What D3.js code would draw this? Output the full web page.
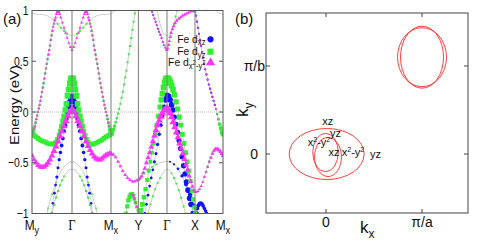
<!DOCTYPE html>
<html>
<head>
<meta charset="utf-8">
<script src="https://cdn.jsdelivr.net/npm/d3@7"></script>
<style>
  body { margin: 0; background: #fff; }
  text { font-family: "Liberation Sans", Arial, sans-serif; fill: #111; }
</style>
</head>
<body>
<script>
// (a) orbital-resolved bands along My-G-Mx-Y-G-X-Mx, (b) Fermi surface

var kPoints = [0, 1, 1.975, 2.66, 3.375, 4.075, 4.775];
var kNames = ["M", "Γ", "M", "Y", "Γ", "X", "M"];
var kSubs = ["y", "", "x", "", "", "", "x"];
var energyTicks = [-1, -0.5, 0, 0.5, 1];

// rows: [k, E (eV), weight xz, weight yz, weight x2-y2]
var bandX2 = [
  [0.00,-0.43,0,0,.65],[0.05,-0.47,0,0,.65],[0.10,-0.50,0,0,.7],[0.15,-0.525,0,0,.7],[0.20,-0.54,0,0,.7],
  [0.25,-0.545,0,0,.75],[0.30,-0.54,0,0,.75],[0.35,-0.525,0,0,.75],[0.40,-0.50,0,0,.8],[0.45,-0.47,0,0,.8],
  [0.50,-0.43,0,0,.8],[0.55,-0.385,0,0,.85],[0.60,-0.34,0,0,.85],[0.65,-0.29,0,0,.85],[0.70,-0.24,0,0,.9],
  [0.75,-0.19,0,0,.9],[0.80,-0.14,0,0,.9],[0.85,-0.09,0,0,.95],[0.90,-0.04,0,0,.95],[0.95,0.00,0,0,1],
  [1.00,0.03,0,0,1],[1.05,0.00,0,0,1],[1.10,-0.04,0,0,.95],[1.15,-0.09,0,0,.95],[1.20,-0.14,0,0,.9],
  [1.25,-0.19,0,0,.9],[1.30,-0.24,0,0,.85],[1.35,-0.29,0,0,.85],[1.40,-0.335,0,0,.8],[1.45,-0.375,0,0,.8],
  [1.50,-0.41,0,0,.8],[1.55,-0.44,0,0,.75],[1.60,-0.46,0,0,.75],[1.65,-0.47,0,0,.75],[1.70,-0.47,0,0,.75],
  [1.75,-0.46,0,0,.75],[1.80,-0.44,0,0,.75],[1.85,-0.425,0,0,.75],[1.90,-0.415,0,0,.7],[1.94,-0.41,0,0,.7],
  [1.975,-0.41,0,0,.6],[2.03,-0.42,0,0,.4],[2.09,-0.445,0,0,.35],[2.15,-0.49,0,0,.35],[2.21,-0.535,0,0,.35],
  [2.27,-0.58,0,0,.35],[2.33,-0.62,0,0,.35],[2.39,-0.65,0,0,.35],[2.45,-0.67,0,0,.35],[2.51,-0.685,0,0,.35],
  [2.57,-0.685,0,0,.35],[2.62,-0.675,0,0,.35],[2.66,-0.67,0,0,.35],[2.70,-0.655,0,.15,.35],[2.74,-0.635,0,.15,.4],
  [2.78,-0.60,0,0,.45],[2.82,-0.555,0,0,.5],[2.86,-0.50,0,0,.55],[2.90,-0.45,0,0,.6],[2.94,-0.40,0,0,.65],
  [2.98,-0.345,0,0,.7],[3.02,-0.29,0,0,.75],[3.06,-0.235,0,0,.8],[3.10,-0.18,0,0,.85],[3.14,-0.13,0,0,.9],
  [3.18,-0.085,0,0,.9],[3.22,-0.045,0,0,.95],[3.26,-0.01,0,0,.95],[3.30,0.015,0,0,1],[3.34,0.03,0,0,1],
  [3.375,0.035,0,0,1],[3.41,0.02,0,0,1],[3.45,-0.01,0,0,1],[3.49,-0.05,0,0,.95],[3.53,-0.10,0,0,.95],
  [3.57,-0.15,0,0,.9],[3.61,-0.20,0,0,.9],[3.65,-0.25,0,0,.85],[3.69,-0.31,0,0,.85],[3.73,-0.36,0,0,.8],
  [3.77,-0.41,0,0,.8],[3.81,-0.465,0,0,.75],[3.85,-0.52,0,0,.7],[3.89,-0.57,0,0,.65],[3.93,-0.63,0,0,.6],
  [3.97,-0.685,0,0,.55],[4.01,-0.735,0,0,.45],[4.045,-0.77,0,0,.35],[4.075,-0.785,0,0,.3],[4.11,-0.79,0,0,.25],
  [4.15,-0.78,0,0,.25],[4.19,-0.76,0,0,.25],[4.23,-0.73,0,0,.25],[4.27,-0.69,0,0,.25],[4.31,-0.64,0,.1,.25],
  [4.35,-0.59,0,.15,.25],[4.39,-0.54,0,.2,.25],[4.43,-0.49,0,.2,.3],[4.47,-0.45,0,.2,.3],[4.51,-0.41,0,.2,.35],
  [4.55,-0.38,0,.2,.4],[4.59,-0.365,0,.15,.45],[4.63,-0.365,0,.1,.5],[4.67,-0.375,0,0,.5],[4.71,-0.39,0,0,.5],
  [4.745,-0.41,0,0,.5],[4.775,-0.43,0,0,.5]
];

var bandYzLeft = [
  [0.00,-0.215,0,.7,0],[0.05,-0.23,0,.7,0],[0.10,-0.245,0,.7,0],[0.15,-0.26,0,.65,0],[0.20,-0.275,0,.65,0],
  [0.25,-0.285,0,.65,0],[0.30,-0.29,0,.65,0],[0.35,-0.30,0,.65,0],[0.40,-0.31,0,.65,0],[0.45,-0.315,0,.65,0],
  [0.50,-0.315,0,.65,0],[0.55,-0.315,0,.7,0],[0.60,-0.30,0,.7,0],[0.64,-0.27,0,.7,0],[0.68,-0.23,0,.7,0],
  [0.71,-0.19,0,.7,0],[0.74,-0.14,0,.75,0],[0.77,-0.09,0,.75,0],[0.80,-0.04,0,.8,0],[0.83,0.02,0,.8,0],
  [0.86,0.08,0,.85,0],[0.89,0.16,0,.9,0],[0.92,0.22,0,.9,0],[0.95,0.28,0,.95,0],[0.98,0.32,0,1,0],
  [1.00,0.33,0,1,0],[1.02,0.32,0,1,0],[1.05,0.28,0,.95,0],[1.08,0.22,0,.9,0],[1.11,0.16,0,.9,0],
  [1.14,0.08,0,.85,0],[1.17,0.02,0,.8,0],[1.20,-0.04,0,.8,0],[1.23,-0.09,0,.75,0],[1.26,-0.14,0,.75,0],
  [1.29,-0.19,0,.7,0],[1.32,-0.23,0,.7,0],[1.36,-0.27,0,.7,0],[1.40,-0.30,0,.7,0],[1.45,-0.315,0,.65,0],
  [1.50,-0.32,0,.65,0],[1.55,-0.315,0,.65,0],[1.60,-0.305,0,.65,0],[1.65,-0.295,0,.65,0],[1.70,-0.285,0,.65,0],
  [1.75,-0.275,0,.65,0],[1.80,-0.26,0,.65,0],[1.85,-0.245,0,.7,0],[1.90,-0.235,0,.7,0],[1.94,-0.225,0,.7,0],
  [1.975,-0.215,0,.7,0]
];

var bandUpper = [
  [0.00,-0.215,0,.6,.1],[0.025,-0.19,0,.5,.1],[0.05,-0.165,0,.4,.15],[0.07,-0.14,0,.3,.2],[0.09,-0.105,0,.25,.2],
  [0.11,-0.07,0,.2,.2],[0.13,-0.035,0,.2,.2],[0.15,0.0,0,.2,.2],[0.17,0.035,0,.2,.2],[0.19,0.07,0,.2,.2],
  [0.21,0.11,0,.2,.2],[0.23,0.15,0,.2,.2],[0.25,0.195,0,.2,.2],[0.27,0.24,0,.2,.2],[0.29,0.285,0,.2,.2],
  [0.31,0.33,0,.2,.2],[0.33,0.38,0,.2,.2],[0.35,0.43,0,.2,.2],[0.37,0.475,0,.2,.2],[0.39,0.52,0,.2,.2],
  [0.41,0.565,0,.2,.2],[0.43,0.61,0,.2,.2],[0.45,0.655,0,.2,.2],[0.47,0.71,0,.2,.2],[0.49,0.755,0,.2,.2],
  [0.51,0.80,0,.15,.25],[0.53,0.84,0,.1,.25],[0.55,0.87,0,.1,.25],[0.57,0.905,0,0,.3],[0.59,0.93,0,0,.3],
  [0.61,0.965,0,0,.3],[0.63,0.985,0,0,.3],[0.65,0.995,0,0,.3],[0.67,0.985,0,0,.3],[0.69,0.965,0,0,.3],
  [0.72,0.93,0,0,.25],[0.76,0.88,0,0,.25],[0.80,0.83,0,0,.25],[0.84,0.78,0,0,.25],[0.88,0.73,0,0,.25],
  [0.92,0.68,0,0,.25],[0.96,0.64,0,0,.25],[1.00,0.61,0,0,.3],[1.04,0.64,0,0,.25],[1.08,0.68,0,0,.25],
  [1.12,0.73,0,0,.25],[1.16,0.78,0,0,.25],[1.20,0.83,0,0,.25],[1.24,0.88,0,0,.25],[1.28,0.93,0,0,.25],
  [1.31,0.965,0,0,.3],[1.33,0.985,0,0,.3],[1.35,0.995,0,0,.3],[1.37,0.985,0,0,.3],[1.39,0.965,0,0,.3],
  [1.41,0.93,0,0,.3],[1.43,0.905,0,0,.3],[1.45,0.87,0,.1,.25],[1.47,0.84,0,.1,.25],[1.49,0.80,0,.15,.25],
  [1.51,0.755,0,.2,.2],[1.53,0.71,0,.2,.2],[1.55,0.655,0,.2,.2],[1.57,0.61,0,.2,.2],[1.59,0.565,0,.2,.2],
  [1.61,0.52,0,.2,.2],[1.63,0.475,0,.2,.2],[1.65,0.43,0,.2,.2],[1.67,0.38,0,.2,.2],[1.69,0.33,0,.2,.2],
  [1.71,0.285,0,.2,.2],[1.73,0.24,0,.2,.2],[1.75,0.195,0,.2,.2],[1.77,0.15,0,.2,.2],[1.79,0.11,0,.2,.2],
  [1.81,0.07,0,.2,.2],[1.83,0.035,0,.2,.2],[1.85,0.0,0,.2,.2],[1.87,-0.035,0,.2,.2],[1.89,-0.07,0,.25,.2],
  [1.91,-0.105,0,.3,.2],[1.93,-0.14,0,.4,.15],[1.95,-0.175,0,.5,.1],[1.975,-0.215,0,.6,.1]
];

var bandTopLeft = [
  [0.00,0.975,0,0,0],[0.08,0.965,0,0,0],[0.16,0.96,0,0,0],[0.24,0.96,0,0,0],[0.32,0.955,0,0,0],
  [0.40,0.945,0,0,0],[0.48,0.925,0,0,0],[0.56,0.90,0,.1,0],[0.64,0.87,0,.15,0],[0.72,0.83,0,.15,0],
  [0.80,0.80,0,.15,0],[0.88,0.77,0,.1,0],[0.94,0.755,0,0,0],[1.00,0.75,0,0,0],[1.06,0.755,0,0,0],
  [1.12,0.77,0,.1,0],[1.20,0.80,0,.15,0],[1.28,0.83,0,.15,0],[1.36,0.87,0,.15,0],[1.44,0.90,0,.1,0],
  [1.52,0.925,0,0,0],[1.60,0.945,0,0,0],[1.68,0.955,0,0,0],[1.76,0.96,0,0,0],[1.84,0.96,0,0,0],
  [1.92,0.965,0,0,0],[1.975,0.97,0,0,0],[2.03,0.985,0,0,0],[2.08,1.0,0,0,0],[2.12,1.02,0,0,0]
];

var bandXzLeft = [
  [0.49,-1.0,.25,0,0],[0.52,-0.9,.25,0,0],[0.56,-0.8,.3,0,0],[0.59,-0.72,.3,0,0],[0.62,-0.64,.35,0,0],
  [0.65,-0.55,.35,0,0],[0.68,-0.47,.4,0,0],[0.71,-0.40,.45,0,0],[0.74,-0.33,.5,0,0],[0.77,-0.26,.5,0,0],
  [0.80,-0.19,.55,0,0],[0.83,-0.13,.6,0,0],[0.86,-0.07,.65,0,0],[0.89,-0.01,.7,0,0],[0.92,0.05,.8,0,0],
  [0.95,0.10,.9,0,0],[0.98,0.14,1,0,0],[1.00,0.15,1,0,0],[1.02,0.14,1,0,0],[1.05,0.10,.9,0,0],
  [1.08,0.05,.8,0,0],[1.11,-0.01,.7,0,0],[1.14,-0.07,.65,0,0],[1.17,-0.13,.6,0,0],[1.20,-0.19,.55,0,0],
  [1.23,-0.26,.5,0,0],[1.26,-0.33,.5,0,0],[1.29,-0.40,.45,0,0],[1.32,-0.47,.4,0,0],[1.35,-0.55,.35,0,0],
  [1.38,-0.64,.35,0,0],[1.41,-0.72,.3,0,0],[1.44,-0.8,.3,0,0],[1.48,-0.9,.25,0,0],[1.51,-1.0,.25,0,0]
];

var bandLowOuterLeft = [
  [0.37,-1.0,0,0,0],[0.40,-0.95,0,.08,0],[0.45,-0.877,0,0,0],[0.50,-0.81,0,.08,0],[0.55,-0.749,0,0,0],
  [0.60,-0.695,0,.08,0],[0.65,-0.647,0,0,0],[0.70,-0.605,0,0,0],[0.75,-0.57,0,0,0],[0.80,-0.541,0,0,0],
  [0.85,-0.519,0,0,0],[0.90,-0.503,0,0,0],[0.95,-0.493,0,0,0],[1.00,-0.49,0,0,0],[1.05,-0.493,0,0,0],
  [1.10,-0.503,0,0,0],[1.15,-0.519,0,0,0],[1.20,-0.541,0,0,0],[1.25,-0.57,0,0,0],[1.30,-0.605,0,0,0],
  [1.35,-0.647,0,0,0],[1.40,-0.695,0,.08,0],[1.45,-0.749,0,0,0],[1.50,-0.81,0,.08,0],[1.55,-0.877,0,0,0],
  [1.60,-0.95,0,.08,0],[1.63,-1.0,0,0,0]
];

var bandLowInnerLeft = [
  [0.50,-1.0,0,.15,0],[0.55,-0.917,0,.15,0],[0.60,-0.843,0,.15,0],[0.65,-0.778,0,.15,0],[0.70,-0.722,0,.12,0],
  [0.75,-0.674,0,.12,0],[0.80,-0.635,0,.1,0],[0.85,-0.604,0,0,0],[0.90,-0.582,0,0,0],[0.95,-0.569,0,0,0],
  [1.00,-0.565,0,0,0],[1.05,-0.569,0,0,0],[1.10,-0.582,0,0,0],[1.15,-0.604,0,0,0],[1.20,-0.635,0,.1,0],
  [1.25,-0.674,0,.12,0],[1.30,-0.722,0,.12,0],[1.35,-0.778,0,.15,0],[1.40,-0.843,0,.15,0],[1.45,-0.917,0,.15,0],
  [1.50,-1.0,0,.15,0]
];

var bandMxY = [
  [1.975,-0.215,0,.6,0],[2.00,-0.20,0,.55,0],[2.03,-0.175,0,.45,0],[2.06,-0.14,0,.35,0],[2.09,-0.10,0,.25,0],
  [2.12,-0.06,0,.2,0],[2.15,-0.015,0,.18,0],[2.18,0.03,0,.15,0],[2.21,0.08,0,.15,0],[2.24,0.14,0,.15,0],
  [2.27,0.20,0,.15,0],[2.30,0.27,0,.15,0],[2.33,0.34,0,.15,0],[2.36,0.41,0,.15,0],[2.39,0.49,0,.15,0],
  [2.42,0.57,0,.15,0],[2.45,0.65,0,.15,0],[2.48,0.73,0,.15,0],[2.51,0.81,0,.15,0],[2.54,0.89,0,.15,0],
  [2.57,0.97,0,.15,0],[2.59,1.02,0,.15,0]
];

var bandTopRight = [
  [2.97,1.02,.15,0,.15],[3.00,0.99,.15,0,.15],[3.03,0.955,.15,0,.15],[3.06,0.92,.15,0,.15],[3.09,0.89,.15,0,.15],
  [3.12,0.855,.15,0,.15],[3.15,0.82,.15,0,.15],[3.18,0.79,.15,0,.15],[3.21,0.76,.15,0,.15],[3.24,0.73,.12,0,.2],
  [3.27,0.69,.1,0,.2],[3.30,0.66,0,0,.25],[3.33,0.635,0,0,.25],[3.355,0.615,0,0,.3],[3.375,0.61,0,0,.3],
  [3.395,0.625,0,0,.3],[3.415,0.66,0,0,.3],[3.435,0.70,0,0,.3],[3.455,0.74,0,0,.35],[3.48,0.78,0,0,.35],
  [3.51,0.815,0,0,.35],[3.54,0.845,0,0,.35],[3.58,0.875,0,0,.35],[3.62,0.90,0,0,.35],[3.67,0.92,0,0,.35],
  [3.72,0.935,0,0,.35],[3.77,0.95,0,0,.35],[3.82,0.96,0,0,.35],[3.87,0.97,0,0,.35],[3.92,0.98,0,0,.35],
  [3.97,0.99,0,0,.35],[4.02,0.995,0,0,.35],[4.05,0.995,0,0,.35],[4.075,0.99,.1,0,.3],[4.10,0.95,.2,0,.15],
  [4.125,0.89,.2,0,.15],[4.15,0.83,.2,0,.15],[4.175,0.77,.2,0,.15],[4.20,0.71,.2,0,.15],[4.225,0.65,.2,0,.15],
  [4.25,0.59,.2,0,.15],[4.275,0.53,.2,0,.15],[4.30,0.475,.2,0,.15],[4.33,0.42,.2,0,.15],[4.36,0.37,.2,0,.15],
  [4.39,0.32,.2,0,.15],[4.42,0.27,.2,0,.15],[4.45,0.23,.2,0,.15],[4.48,0.19,.2,0,.15],[4.51,0.15,.2,0,.15],
  [4.54,0.11,.2,0,.15],[4.57,0.07,.2,0,.15],[4.60,0.03,.15,.1,.15],[4.63,-0.02,.1,.2,.1],[4.66,-0.07,0,.3,.1],
  [4.69,-0.12,0,.4,0],[4.72,-0.16,0,.5,0],[4.75,-0.20,0,.6,0],[4.775,-0.22,0,.6,0]
];

var bandTopGammaRight = [
  [3.12,1.0,0,0,0],[3.16,0.94,0,0,0],[3.20,0.87,0,0,0],[3.24,0.82,0,0,0],[3.28,0.78,0,0,0],
  [3.33,0.76,0,0,0],[3.375,0.755,0,0,0],[3.42,0.76,0,0,0],[3.47,0.78,0,.15,0],[3.51,0.82,0,.15,0],
  [3.55,0.87,0,.15,0],[3.59,0.94,0,.15,0],[3.63,1.0,0,.15,0]
];

var bandTopMx = [[4.58,1.02,0,0,0],[4.62,0.995,0,0,0],[4.66,0.98,0,0,0],[4.70,0.97,0,0,0],[4.74,0.965,0,0,0],[4.775,0.96,0,0,0]];

var bandXzRight = [
  [2.82,-1.0,.3,0,0],[2.86,-0.91,.3,0,0],[2.90,-0.82,.3,0,0],[2.94,-0.73,.3,0,0],[2.98,-0.65,.3,0,0],
  [3.02,-0.57,.3,0,0],[3.06,-0.49,.35,0,0],[3.10,-0.41,.35,0,0],[3.14,-0.32,.4,0,0],[3.18,-0.22,.45,0,0],
  [3.22,-0.13,.5,0,0],[3.26,-0.04,.6,0,0],[3.30,0.05,.7,0,0],[3.34,0.12,.85,0,0],[3.375,0.16,1,0,0],
  [3.41,0.15,1,0,0],[3.45,0.12,.9,0,0],[3.49,0.07,.85,0,0],[3.525,0.02,.8,0,0],[3.56,-0.05,.8,0,0],
  [3.60,-0.12,.75,0,0],[3.64,-0.20,.75,0,0],[3.675,-0.28,.75,0,0],[3.71,-0.36,.75,0,0],[3.75,-0.44,.75,0,0],
  [3.79,-0.53,.8,0,0],[3.825,-0.61,.8,0,0],[3.86,-0.69,.8,0,0],[3.90,-0.77,.85,0,0],[3.94,-0.85,.85,0,0],
  [3.975,-0.91,.85,0,0],[4.025,-1.0,.85,0,0]
];

var bandYzRight = [
  [2.69,-1.0,0,.7,0],[2.72,-0.97,0,.7,0],[2.76,-0.91,0,.7,0],[2.80,-0.84,0,.65,0],[2.84,-0.76,0,.6,0],
  [2.88,-0.67,0,.55,0],[2.92,-0.58,0,.5,0],[2.96,-0.49,0,.5,0],[3.00,-0.40,0,.5,0],[3.04,-0.31,0,.55,0],
  [3.08,-0.22,0,.6,0],[3.12,-0.13,0,.65,0],[3.16,-0.04,0,.7,0],[3.20,0.05,0,.75,0],[3.23,0.12,0,.8,0],
  [3.26,0.18,0,.85,0],[3.29,0.24,0,.9,0],[3.32,0.29,0,.95,0],[3.35,0.32,0,1,0],[3.375,0.33,0,1,0],
  [3.40,0.325,0,1,0],[3.43,0.31,0,1,0],[3.46,0.29,0,.95,0],[3.49,0.26,0,.9,0],[3.525,0.22,0,.85,0],
  [3.56,0.17,0,.8,0],[3.60,0.10,0,.8,0],[3.64,0.03,0,.75,0],[3.68,-0.05,0,.75,0],[3.72,-0.13,0,.7,0],
  [3.76,-0.22,0,.7,0],[3.80,-0.31,0,.7,0],[3.84,-0.40,0,.7,0],[3.88,-0.49,0,.65,0],[3.92,-0.58,0,.65,0],
  [3.96,-0.68,0,.6,0],[4.00,-0.78,0,.6,0],[4.03,-0.86,0,.6,0],[4.06,-0.94,0,.6,0],[4.08,-1.0,0,.6,0]
];

var bandLowOuterRight = [
  [2.66,-0.665,0,.12,0],[2.72,-0.635,0,.12,0],[2.80,-0.60,0,.12,0],[2.90,-0.565,0,.12,0],[3.00,-0.54,0,.1,0],
  [3.10,-0.515,0,.1,0],[3.20,-0.50,0,0,0],[3.30,-0.49,0,0,0],[3.375,-0.487,0,0,0],[3.45,-0.49,.15,0,0],
  [3.55,-0.515,.2,0,0],[3.65,-0.56,.3,0,0],[3.75,-0.63,.4,0,0],[3.85,-0.715,.5,0,0],[3.95,-0.815,.6,0,0],
  [4.05,-0.925,.6,0,0],[4.12,-1.0,.6,0,0]
];

var bandLowInnerRight = [
  [2.90,-1.0,0,.15,0],[2.96,-0.91,0,.15,0],[3.02,-0.83,0,.15,0],[3.08,-0.76,0,.12,0],[3.14,-0.70,0,.12,0],
  [3.20,-0.65,0,.1,0],[3.26,-0.61,0,0,0],[3.32,-0.575,0,0,0],[3.375,-0.565,0,0,0],[3.43,-0.575,0,0,0],
  [3.49,-0.605,0,.1,0],[3.55,-0.65,0,.12,0],[3.61,-0.705,0,.12,0],[3.67,-0.77,0,.15,0],[3.73,-0.845,0,.15,0],
  [3.79,-0.93,0,.15,0],[3.84,-1.0,0,.15,0]
];

var bandHumpY = [
  [2.35,-1.0,0,.5,0],[2.38,-0.93,0,.55,0],[2.41,-0.87,0,.6,0],[2.44,-0.835,0,.6,0],[2.47,-0.815,0,.6,0],
  [2.50,-0.81,0,.6,.2],[2.53,-0.825,0,.55,.3],[2.56,-0.855,0,.5,.3],[2.59,-0.895,0,.45,.3],[2.62,-0.935,0,.4,.25],
  [2.65,-0.97,0,.3,.2],[2.68,-1.0,0,.3,.2]
];

var bandHumpX = [
  [4.10,-1.0,.5,0,0],[4.13,-0.95,.55,0,0],[4.16,-0.92,.55,0,0],[4.19,-0.905,.55,0,0],[4.22,-0.90,.55,0,0],
  [4.25,-0.905,.5,0,0],[4.28,-0.925,.5,0,0],[4.31,-0.95,.45,0,0],[4.34,-0.975,.45,0,0],[4.37,-1.0,.4,0,0]
];

var bands = [bandTopLeft, bandLowOuterLeft, bandLowInnerLeft, bandTopGammaRight, bandTopMx,
  bandLowOuterRight, bandLowInnerRight, bandUpper, bandMxY, bandTopRight, bandHumpY, bandHumpX,
  bandYzLeft, bandXzLeft, bandXzRight, bandYzRight, bandX2];

var orbitalSubs = ["xz", "yz", "x2-y2"];

// Fermi contours (b): [kx, ky, half-width, half-height], kx in pi/a, ky in pi/b
var fsGammaOuter = [0.007, 0.0, 0.39, 0.29];
var fsGammaInnerA = [-0.005, 0.017, 0.133, 0.218];
var fsGammaInnerB = [0.021, -0.034, 0.14, 0.222];
var fsPocketA = [1.0, 1.10, 0.255, 0.335];
var fsPocketB = [1.0, 1.10, 0.224, 0.352];
var fsContours = [fsGammaOuter, fsGammaInnerA, fsGammaInnerB, fsPocketA, fsPocketB];

var fsLabelText = ["xz", "yz", "x2-y2", "xz", "x2-y2", "yz"];
var fsLabelKx = [-0.04, 0.042, -0.19, 0.026, 0.164, 0.458];
var fsLabelKy = [0.33, 0.193, 0.09, -0.023, -0.023, -0.045];

var W = 477, H = 245;
var svg = d3.select("body").append("svg").attr("width", W).attr("height", H);

// ---------- panel (a) ----------
var x = d3.scaleLinear().domain([0, 4.775]).range([32, 223]);
var y = d3.scaleLinear().domain([-1, 1]).range([213.5, 10.5]);
var size = d3.scaleLinear().domain([0, 1]).range([1.2, 6.4]);

var colors = ["#1212ff", "#33ee33", "#ff33ff"];
var shapes = [d3.symbolCircle, d3.symbolSquare, d3.symbolTriangle];
var areaK = [Math.PI / 4, 1, 0.65];

function marker(o, d) {
  return d3.symbol().type(shapes[o]).size(d * d * areaK[o])();
}

// squeezed text, the original figure is narrower than tall
function label(g, px, py, s, anchor, sx, fs) {
  return g.append("text")
    .attr("transform", "translate(" + px + "," + py + ") scale(" + sx + ",1)")
    .attr("text-anchor", anchor)
    .attr("font-size", fs)
    .text(s);
}

svg.append("clipPath").attr("id", "clipA")
  .append("rect").attr("x", x(0)).attr("y", y(1)).attr("width", x(4.775) - x(0)).attr("height", y(-1) - y(1));

var plot = svg.append("g").attr("clip-path", "url(#clipA)");

// zero line
plot.append("line")
  .attr("x1", x(0)).attr("x2", x(4.775)).attr("y1", y(0)).attr("y2", y(0))
  .attr("stroke", "#bbb").attr("stroke-width", 1).attr("stroke-dasharray", "1,1");

// high-symmetry lines
svg.append("g").selectAll("line")
  .data(kPoints.slice(1, -1))
  .enter().append("line")
  .attr("x1", d => x(d)).attr("x2", d => x(d))
  .attr("y1", y(1)).attr("y2", y(-1))
  .attr("stroke", "#7a7a7a").attr("stroke-width", 1);

var line = d3.line().x(d => x(d[0])).y(d => y(d[1])).curve(d3.curveMonotoneX);

plot.append("g").selectAll("path")
  .data(bands)
  .enter().append("path")
  .attr("d", line)
  .attr("fill", "none")
  .attr("stroke", "#c6c6c6")
  .attr("stroke-width", 0.9);

[0, 1, 2].forEach(function(o) {
  var pts = [];
  bands.forEach(function(b) {
    b.forEach(function(r) { if (r[2 + o] > 0.04) pts.push(r); });
  });
  plot.append("g").selectAll("path")
    .data(pts)
    .enter().append("path")
    .attr("transform", d => "translate(" + x(d[0]) + "," + y(d[1]) + ")")
    .attr("d", d => marker(o, size(d[2 + o])))
    .attr("fill", colors[o]);
});

// frame
svg.append("rect")
  .attr("x", x(0)).attr("y", y(1))
  .attr("width", x(4.775) - x(0)).attr("height", y(-1) - y(1))
  .attr("fill", "none").attr("stroke", "#555").attr("stroke-width", 1);

// y ticks
var yt = svg.append("g");
energyTicks.forEach(function(e) {
  yt.append("line").attr("x1", x(0)).attr("x2", x(0) + 4).attr("y1", y(e)).attr("y2", y(e)).attr("stroke", "#555");
  yt.append("line").attr("x1", x(4.775)).attr("x2", x(4.775) - 4).attr("y1", y(e)).attr("y2", y(e)).attr("stroke", "#555");
  label(yt, x(0) - 3.5, y(e) + 4.5, d3.format("")(e), "end", 0.8, 13);
});

label(svg, 3, 24, "(a)", "start", 1, 15);

svg.append("text")
  .attr("transform", "translate(19,105) scale(0.8,1) rotate(-90)")
  .attr("text-anchor", "middle")
  .attr("font-size", 15)
  .text("Energy (eV)");

// k labels
kPoints.forEach(function(k, i) {
  var t = svg.append("text")
    .attr("transform", "translate(" + x(k) + ",230) scale(0.85,1)")
    .attr("text-anchor", "middle")
    .attr("font-size", 14);
  if (kNames[i] === "Γ") t.style("font-family", "'Liberation Serif', serif").attr("font-size", 15);
  t.append("tspan").text(kNames[i]);
  if (kSubs[i]) t.append("tspan").attr("dy", 4).attr("font-size", 11).text(kSubs[i]);
});

// legend
var legY = [39.3, 51.7, 62.7];
orbitalSubs.forEach(function(s, o) {
  var t = svg.append("text")
    .attr("transform", "translate(205.5," + (legY[o] + 3.5) + ") scale(0.9,1)")
    .attr("text-anchor", "end")
    .attr("font-size", 11.5);
  t.append("tspan").text("Fe d");
  if (s === "x2-y2") {
    t.append("tspan").attr("dy", 2.5).attr("font-size", 8.5).text("x");
    t.append("tspan").attr("dy", -4).attr("font-size", 6.5).text("2");
    t.append("tspan").attr("dy", 4).attr("font-size", 8.5).text("-y");
    t.append("tspan").attr("dy", -4).attr("font-size", 6.5).text("2");
  } else {
    t.append("tspan").attr("dy", 2.5).attr("font-size", 8.5).text(s);
  }
  svg.append("path")
    .attr("transform", "translate(210.5," + legY[o] + ")")
    .attr("d", marker(o, o === 2 ? 7.5 : 6.2))
    .attr("fill", colors[o]);
});

// ---------- panel (b) ----------
var xb = d3.scaleLinear().domain([-0.625, 1.479]).range([266, 468]);
var yb = d3.scaleLinear().domain([-0.67, 1.602]).range([213, 13]);

var pb = svg.append("g");

pb.selectAll("ellipse")
  .data(fsContours)
  .enter().append("ellipse")
  .attr("cx", d => xb(d[0]))
  .attr("cy", d => yb(d[1]))
  .attr("rx", d => xb(d[0] + d[2]) - xb(d[0]))
  .attr("ry", d => yb(d[1]) - yb(d[1] + d[3]))
  .attr("fill", "none")
  .attr("stroke", "#ff2a2a")
  .attr("stroke-width", 0.9);

pb.append("rect")
  .attr("x", 266).attr("y", 13).attr("width", 202).attr("height", 200)
  .attr("fill", "none").attr("stroke", "#444").attr("stroke-width", 1);

[0, 1].forEach(function(v) {
  pb.append("line").attr("x1", xb(v)).attr("x2", xb(v)).attr("y1", 213).attr("y2", 209).attr("stroke", "#444");
  pb.append("line").attr("x1", xb(v)).attr("x2", xb(v)).attr("y1", 13).attr("y2", 17).attr("stroke", "#444");
  pb.append("line").attr("x1", 266).attr("x2", 270).attr("y1", yb(v)).attr("y2", yb(v)).attr("stroke", "#444");
  pb.append("line").attr("x1", 468).attr("x2", 464).attr("y1", yb(v)).attr("y2", yb(v)).attr("stroke", "#444");
});

label(pb, xb(0), 227, "0", "middle", 1, 14);
label(pb, xb(1), 227, "π/a", "middle", 1, 14);
label(pb, 258, yb(0) + 5, "0", "end", 1, 14);
label(pb, 265, yb(1) + 5, "π/b", "end", 1, 14);
label(pb, 235, 24, "(b)", "start", 1, 15);

var kx = pb.append("text").attr("x", 360).attr("y", 233).attr("font-size", 17);
kx.append("tspan").text("k");
kx.append("tspan").attr("dy", 5).attr("font-size", 12).text("x");

var ky = pb.append("text").attr("transform", "translate(248,117) rotate(-90)").attr("font-size", 17);
ky.append("tspan").text("k");
ky.append("tspan").attr("dy", 5).attr("font-size", 12).text("y");

fsLabelText.forEach(function(s, i) {
  var t = pb.append("text")
    .attr("x", xb(fsLabelKx[i])).attr("y", yb(fsLabelKy[i]))
    .attr("font-size", 11);
  if (s === "x2-y2") {
    t.append("tspan").text("x");
    t.append("tspan").attr("dy", -4).attr("font-size", 7).text("2");
    t.append("tspan").attr("dy", 4).text("-y");
    t.append("tspan").attr("dy", -4).attr("font-size", 7).text("2");
  } else {
    t.text(s);
  }
});
</script>
</body>
</html>
